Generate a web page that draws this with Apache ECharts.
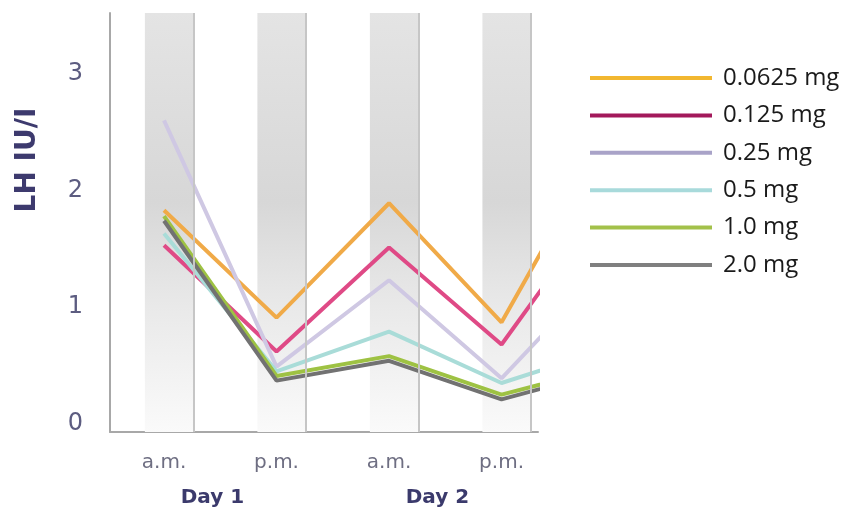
<!DOCTYPE html>
<html>
<head>
<meta charset="utf-8">
<script src="https://cdn.jsdelivr.net/npm/echarts@6/dist/echarts.min.js"></script>
<style>
html,body{margin:0;padding:0;background:#fff;}
#c{width:842px;height:511px;}
</style>
</head>
<body>
<div id="c"></div>
<script>
// ---- data ----
const categories = ['a.m.', 'p.m.', 'a.m.', 'p.m.'];
const dayLabels = ['Day 1', 'Day 2'];
const yTicks = [0, 1, 2, 3];
const seriesNames = ['0.0625 mg', '0.125 mg', '0.25 mg', '0.5 mg', '1.0 mg', '2.0 mg'];
// last value of each series is the next (Day 3 a.m.) point, clipped at the right edge
const v00625 = [1.83, 0.91, 1.89, 0.87, 2.58];
const v0125  = [1.53, 0.62, 1.51, 0.68, 2.01];
const v025   = [2.60, 0.49, 1.23, 0.39, 1.41];
const v05    = [1.63, 0.45, 0.79, 0.35, 0.66];
const v10    = [1.78, 0.41, 0.58, 0.25, 0.50];
const v20    = [1.74, 0.37, 0.54, 0.21, 0.47];
const allValues = [v00625, v0125, v025, v05, v10, v20];

// ---- styles ----
const lineColors   = ['#f0aa48', '#df4a86', '#cfc8e3', '#a9dcd8', '#9ec243', '#727272'];
const legendColors = ['#f2b730', '#a3195b', '#a9a3c8', '#a8dadb', '#a3c14a', '#7f7f7f'];

const chart = echarts.init(document.getElementById('c'), null, {renderer: 'canvas'});

const bandData = categories.map((c, i) => [{xAxis: i - 0.17}, {xAxis: i + 0.26}]);
const bandLines = categories.map((c, i) => ({xAxis: i + 0.26}));

const series = [{
  type: 'line',
  name: '_bands',
  data: [],
  silent: true,
  z: 0,
  markArea: {
    silent: true,
    itemStyle: {
      color: new echarts.graphic.LinearGradient(0, 0, 0, 1, [
        {offset: 0, color: '#e4e4e4'},
        {offset: 0.45, color: '#d7d7d7'},
        {offset: 0.7, color: '#e9e9e9'},
        {offset: 1, color: '#fafafa'}
      ])
    },
    data: bandData
  },
  markLine: {
    silent: true,
    symbol: ['none', 'none'],
    label: {show: false},
    lineStyle: {color: '#c6c6c6', width: 2, type: 'solid'},
    data: bandLines
  }
}];

allValues.forEach((vals, k) => {
  series.push({
    type: 'line',
    name: seriesNames[k],
    data: vals.map((v, i) => [i, v]),
    showSymbol: false,
    symbol: 'none',
    clip: true,
    lineStyle: {color: lineColors[k], width: 4},
    itemStyle: {color: lineColors[k]},
    z: 2
  });
});

chart.setOption({
  animation: false,
  backgroundColor: '#ffffff',
  grid: {left: 110, right: 304, top: 13, bottom: 79, containLabel: false},
  legend: {
    orient: 'vertical',
    left: 590,
    top: 66,
    padding: 0,
    icon: 'rect',
    itemWidth: 122,
    itemHeight: 4,
    itemGap: 13.4,
    selectedMode: false,
    textStyle: {
      fontFamily: 'Open Sans',
      fontSize: 24,
      color: '#1a1a1a',
      lineHeight: 24,
      padding: [0, 0, 0, 6]
    },
    data: seriesNames.map((n, k) => ({
      name: n,
      itemStyle: {color: legendColors[k]},
      lineStyle: {color: legendColors[k]}
    }))
  },
  xAxis: [{
    type: 'value',
    min: -0.48,
    max: 3.324,
    position: 'bottom',
    axisLine: {show: true, onZero: false, lineStyle: {color: '#a8a8a8', width: 2}},
    axisTick: {show: false},
    splitLine: {show: false},
    axisLabel: {
      customValues: categories.map((c, i) => i),
      formatter: v => categories[Math.round(v)],
      margin: 21,
      fontFamily: 'DejaVu Sans',
      fontSize: 20,
      color: '#6e6e82'
    }
  }, {
    type: 'value',
    min: -0.48,
    max: 3.324,
    position: 'bottom',
    axisLine: {show: false},
    axisTick: {show: false},
    splitLine: {show: false},
    axisLabel: {
      customValues: dayLabels.map((d, k) => 2 * k + 0.5 - 0.07),
      formatter: v => dayLabels[Math.round((v - 0.43) / 2)],
      margin: 56,
      fontFamily: 'DejaVu Sans',
      fontWeight: 'bold',
      fontSize: 20,
      color: '#3b3a6c'
    }
  }],
  yAxis: {
    type: 'value',
    min: -0.07,
    max: 3.52,
    axisLine: {show: true, onZero: false, lineStyle: {color: '#a8a8a8', width: 2}},
    axisTick: {show: false},
    splitLine: {show: false},
    axisLabel: {
      customValues: yTicks,
      margin: 27,
      fontFamily: 'DejaVu Sans',
      fontSize: 24,
      color: '#5c5c80'
    }
  },
  graphic: [{
    type: 'text',
    x: 28,
    y: 160,
    rotation: Math.PI / 2,
    style: {
      text: 'LH IU/I',
      fontFamily: 'DejaVu Sans',
      fontWeight: 'bold',
      fontSize: 28,
      fill: '#3d3a6e',
      textAlign: 'center',
      textVerticalAlign: 'middle'
    }
  }],
  series: series
});
</script>
</body>
</html>
